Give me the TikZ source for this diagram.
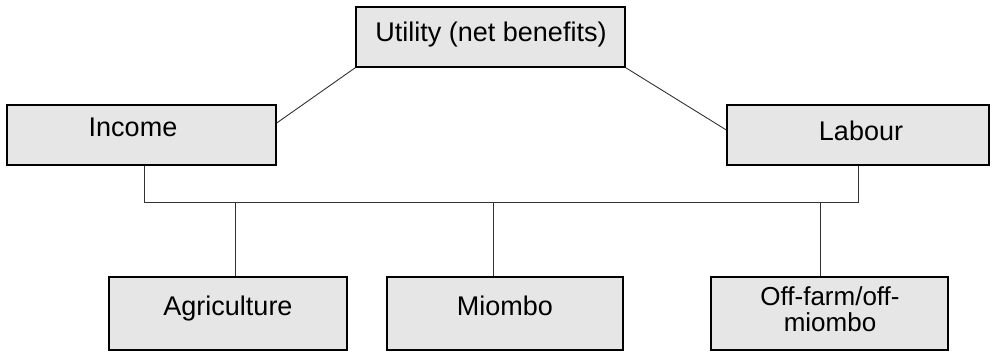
\documentclass[tikz,border=0pt]{standalone}
\usepackage{fontspec}
\setmainfont{Liberation Sans}
\definecolor{boxfill}{HTML}{E6E6E6}
\definecolor{linecol}{HTML}{333333}
\begin{document}
\begin{tikzpicture}[x=1pt,y=-1pt,
  box/.style={draw=black,line width=1.4pt,fill=boxfill,inner sep=0pt},
  lbl/.style={anchor=base,inner sep=0pt,font=\fontsize{27}{32}\selectfont},
  conn/.style={draw=linecol,line width=0.9pt}]
\useasboundingbox (0,0) rectangle (992,352);
% boxes
\node[box,minimum width=269pt,minimum height=60pt] (util) at (490.5,37) {};
\node[box,minimum width=269pt,minimum height=60pt] (inc) at (141.5,135) {};
\node[box,minimum width=262pt,minimum height=60pt] (lab) at (858,135) {};
\node[box,minimum width=238pt,minimum height=73pt] (agr) at (228,313.5) {};
\node[box,minimum width=236pt,minimum height=73pt] (mio) at (505,313.5) {};
\node[box,minimum width=237pt,minimum height=73pt] (off) at (829.5,313.5) {};
% labels
\node[lbl] (util-t) at (491,42) {Utility (net benefits)};
\node[lbl] (inc-t) at (133,137) {Income};
\node[lbl] (lab-t) at (861,141) {Labour};
\node[lbl] (agr-t) at (228,315) {Agriculture};
\node[lbl] (mio-t) at (505,315) {Miombo};
\node[lbl,font=\fontsize{26}{30}\selectfont] (off-t1) at (830,305.5) {Off-farm/off-};
\node[lbl,font=\fontsize{26}{30}\selectfont] (off-t2) at (830,331) {miombo};
% connectors
\coordinate (bus) at (0,202);
\draw[conn] (util.south west) -- ([yshift=12pt]inc.east);
\draw[conn] (util.south east) -- ([yshift=5pt]lab.west);
\draw[conn] ([xshift=2.5pt]inc.south) |- (bus -| lab.south) -- (lab.south);
\draw[conn] ([xshift=7pt]agr.north) -- ([xshift=7pt]agr.north |- bus);
\draw[conn] ([xshift=-12pt]mio.north) -- ([xshift=-12pt]mio.north |- bus);
\draw[conn] ([xshift=-9.5pt]off.north) -- ([xshift=-9.5pt]off.north |- bus);
\end{tikzpicture}
\end{document}
